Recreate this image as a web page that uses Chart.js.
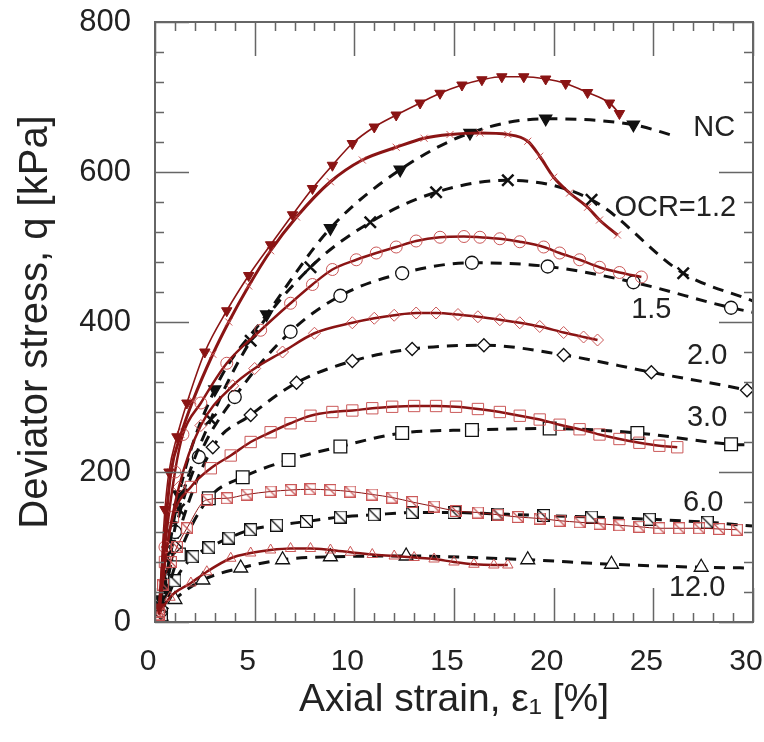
<!DOCTYPE html>
<html>
<head>
<meta charset="utf-8">
<script src="https://cdn.jsdelivr.net/npm/chart.js@4.4.1/dist/chart.umd.min.js"></script>
<style>
  body { margin: 0; background: #fff; }
  canvas { display: block; }
</style>
</head>
<body>
<canvas id="myChart" width="764" height="742"></canvas>
<script>
// axial strain [%], deviator stress [kPa]
// solid dark red curves (dense markers)
const ncSolid = [[0.2, 20], [0.5, 150], [0.7, 200], [1.1, 247], [1.6, 292], [2.5, 360], [3.6, 415], [4.7, 462], [5.8, 503], [6.9, 543], [7.9, 578], [8.9, 609], [9.9, 638], [11, 660], [12.1, 676], [13.3, 692], [14.3, 705], [15.4, 716], [16.4, 723], [17.4, 727], [18.5, 727], [19.6, 724], [20.6, 718], [21.7, 706], [22.8, 692], [23.3, 678]];
const ocr12Solid = [[0.2, 15], [0.6, 150], [0.8, 200], [1.3, 250], [1.9, 295], [2.9, 357], [3.7, 400], [4.7, 448], [5.8, 495], [7.1, 540], [8.8, 587], [10.4, 616], [12.1, 633], [13.5, 645], [14.8, 650], [16.3, 652], [17.7, 650], [18.7, 641], [19.3, 621], [20, 593], [20.8, 572], [21.7, 553], [22.3, 536], [23.2, 516]];
const ocr15Solid = [[0.2, 15], [0.5, 100], [1, 200], [1.4, 250], [2.3, 292], [3.6, 345], [5.3, 389], [6.8, 425], [7.9, 450], [8.9, 470], [10.1, 483], [11.1, 492], [12.1, 500], [13.1, 508], [14.3, 513], [15.5, 514], [16.3, 513], [17.3, 511], [18.3, 507], [19.5, 500], [20.3, 492], [21.3, 483], [22.3, 473], [23.3, 466], [24.4, 460]];
const ocr20Solid = [[0.2, 15], [0.6, 100], [1.2, 180], [2.3, 262], [3.9, 315], [5, 338], [6.4, 360], [8, 385], [9.9, 399], [11, 405], [12, 409], [13.1, 412], [14.1, 412], [15.2, 410], [16.2, 407], [17.3, 403], [18.3, 399], [19.3, 394], [20.5, 386], [21.5, 380], [22.2, 376]];
const ocr30Solid = [[0.2, 10], [0.5, 80], [0.9, 140], [1.8, 180], [2.8, 205], [3.8, 222], [4.8, 240], [5.8, 253], [6.8, 265], [7.8, 275], [8.9, 280], [9.9, 282], [10.9, 285], [11.9, 287], [13, 288], [14.1, 288], [15.1, 287], [16.2, 284], [17.3, 280], [18.3, 275], [19.3, 270], [20.3, 263], [21.3, 257], [22.3, 250], [23.3, 244], [24.3, 239], [25.3, 235], [26.2, 233]];
const ocr60Solid = [[0.2, 10], [0.4, 50], [0.8, 80], [1.1, 100], [1.6, 125], [2.6, 163], [3.6, 165], [4.6, 170], [5.8, 174], [6.8, 176], [7.8, 177], [8.8, 176], [9.8, 174], [10.9, 170], [11.9, 166], [12.9, 160], [14, 154], [15.1, 148], [16.2, 146], [17.2, 143], [18.2, 140], [19.3, 138], [20.3, 135], [21.3, 133], [22.3, 131], [23.3, 129], [24.3, 127], [25.3, 125], [26.3, 125], [27.3, 125], [28.3, 124], [29.2, 123]];
const ocr120Solid = [[0.2, 10], [0.75, 33], [1.8, 52], [2.6, 67], [3.8, 85], [4.8, 92], [5.8, 96], [6.8, 98], [7.8, 98], [8.8, 96], [9.8, 93], [10.9, 90], [12, 88], [13, 86], [14, 84], [15, 80], [16, 77], [17, 76], [17.7, 76]];

// black dashed curves (sparse markers)
const ncDashed = [[0.3, 30], [1.2, 170], [3, 310], [5.6, 410], [8.8, 525], [12.3, 603], [15.8, 652], [19.6, 671], [24, 663], [26.2, 647]];
const ocr12Dashed = [[0.3, 20], [1.2, 150], [2.8, 270], [4.8, 375], [7.8, 473], [10.8, 533], [14.1, 573], [17.7, 589], [21.9, 563], [26.5, 465], [30, 428]];
const ocr15Dashed = [[0.3, 15], [1, 120], [2.2, 220], [4, 300], [6.8, 387], [9.3, 435], [12.4, 465], [15.9, 479], [19.7, 474], [24, 453], [28.9, 419], [30, 413]];
const ocr20Dashed = [[0.3, 12], [1, 100], [2.9, 233], [4.8, 276], [7.1, 319], [9.9, 348], [12.9, 364], [16.5, 369], [20.5, 356], [24.9, 333], [29.7, 309], [30, 307]];
const ocr30Dashed = [[0.3, 10], [1.2, 90], [2.7, 165], [4.4, 193], [6.7, 216], [9.3, 234], [12.4, 252], [15.9, 256], [19.8, 258], [24.2, 252], [28.9, 237], [30, 236]];
const ocr60Dashed = [[0.3, 10], [1, 55], [1.9, 87], [2.7, 99], [3.7, 112], [4.8, 123], [6.1, 129], [7.6, 134], [9.3, 140], [11, 143], [12.9, 146], [15, 146], [17.2, 144], [19.5, 142], [21.9, 140], [24.8, 137], [27.7, 133], [30, 128]];
const ocr120Dashed = [[0.3, 8], [1, 30], [2.4, 56], [4.3, 72], [6.4, 83], [8.8, 87], [12.6, 88], [18.7, 83], [22.9, 77], [27.4, 73], [30, 72]];

const xTicks = [0, 5, 10, 15, 20, 25, 30];
const yTicks = [0, 200, 400, 600, 800];

// curve labels: [text, strain, stress]
const curveLabels = [
  ['NC', 28.05, 659],
  ['OCR=1.2', 26.1, 552],
  ['1.5', 24.9, 416],
  ['2.0', 27.7, 355],
  ['3.0', 27.7, 272],
  ['6.0', 27.5, 159],
  ['12.0', 27.2, 45],
];

const FONT = '"Liberation Sans", Arial, sans-serif';
const DARKRED = '#8a1414';
const PINK = 'rgba(200, 80, 80, 0.95)';

function slashSquare(size, color, fill) {
  const c = document.createElement('canvas');
  c.width = size;
  c.height = size;
  const g = c.getContext('2d');
  if (fill) {
    g.fillStyle = fill;
    g.fillRect(1, 1, size - 2, size - 2);
  }
  g.strokeStyle = color;
  g.lineWidth = 1.2;
  g.strokeRect(0.6, 0.6, size - 1.2, size - 1.2);
  g.beginPath();
  g.moveTo(1, 1);
  g.lineTo(size - 1, size - 1);
  g.stroke();
  return c;
}

function pts(arr) {
  return arr.map(([x, y]) => ({ x, y }));
}

function solid(arr, width, marker) {
  return Object.assign({
    data: pts(arr),
    showLine: true,
    borderColor: DARKRED,
    borderWidth: width,
    cubicInterpolationMode: 'monotone',
    pointBorderColor: PINK,
    pointBackgroundColor: 'rgba(0,0,0,0)',
    pointBorderWidth: 1,
    pointRadius: 5,
  }, marker);
}

function dashed(arr, marker) {
  return Object.assign({
    data: pts(arr),
    showLine: true,
    borderColor: '#111',
    borderWidth: 3,
    borderDash: [11, 8],
    cubicInterpolationMode: 'monotone',
    pointBorderColor: '#111',
    pointBackgroundColor: '#fff',
    pointBorderWidth: 1.3,
    pointRadius: (c) => (c.dataIndex === c.dataset.data.length - 1 ? 0 : (marker.r || 6)),
  }, marker);
}

const datasets = [
  solid(ncSolid, 1.6, { pointStyle: 'triangle', rotation: 180, pointRadius: 6, pointBackgroundColor: DARKRED, pointBorderColor: DARKRED }),
  solid(ocr12Solid, 3, { pointStyle: 'crossRot', pointRadius: 5 }),
  solid(ocr15Solid, 2.5, { pointStyle: 'circle', pointRadius: 6 }),
  solid(ocr20Solid, 2.5, { pointStyle: 'rectRot', pointRadius: 6 }),
  solid(ocr30Solid, 2.5, { pointStyle: 'rect', pointRadius: 8 }),
  solid(ocr60Solid, 1, { pointStyle: slashSquare(12, PINK, null) }),
  solid(ocr120Solid, 2.5, { pointStyle: 'triangle', pointRadius: 6 }),
  dashed(ncDashed, { pointStyle: 'triangle', rotation: 180, r: 7, pointBackgroundColor: '#111' }),
  dashed(ocr12Dashed, { pointStyle: 'crossRot', r: 8, pointBorderWidth: 2.5 }),
  dashed(ocr15Dashed, { pointStyle: 'circle', r: 6.5 }),
  dashed(ocr20Dashed, { pointStyle: 'rectRot', r: 6.5 }),
  dashed(ocr30Dashed, { pointStyle: 'rect', r: 9 }),
  dashed(ocr60Dashed, { pointStyle: slashSquare(13, '#111', '#fff') }),
  dashed(ocr120Dashed, { pointStyle: 'triangle', r: 8 }),
];

// frame, inward ticks and curve labels
const frameTicks = {
  id: 'frameTicks',
  afterDatasetsDraw(chart) {
    const { ctx, chartArea: a, scales: { x, y } } = chart;
    ctx.save();
    ctx.strokeStyle = '#666';
    ctx.lineWidth = 1.5;
    ctx.beginPath();
    for (let v = 0; v <= 30; v += 1) {
      const px = Math.round(x.getPixelForValue(v)) + 0.5;
      const len = v % 5 === 0 ? 34 : 9;
      ctx.moveTo(px, a.bottom); ctx.lineTo(px, a.bottom - len);
      ctx.moveTo(px, a.top); ctx.lineTo(px, a.top + len);
    }
    for (let v = 0; v <= 800; v += 40) {
      const py = Math.round(y.getPixelForValue(v)) + 0.5;
      const len = v % 200 === 0 ? 34 : 9;
      ctx.moveTo(a.left, py); ctx.lineTo(a.left + len, py);
      ctx.moveTo(a.right, py); ctx.lineTo(a.right - len, py);
    }
    ctx.stroke();
    ctx.lineWidth = 2;
    ctx.strokeRect(a.left, a.top, a.right - a.left, a.bottom - a.top);

    ctx.fillStyle = '#222';
    ctx.font = '29px ' + FONT;
    ctx.textAlign = 'center';
    ctx.textBaseline = 'middle';
    curveLabels.forEach(([t, ex, q]) => {
      ctx.fillText(t, x.getPixelForValue(ex), y.getPixelForValue(q));
    });
    ctx.restore();
  },
};

const config = {
  type: 'scatter',
  data: { datasets },
  options: {
    responsive: false,
    animation: false,
    devicePixelRatio: 1,
    layout: { padding: { left: 0, top: 22, right: 11, bottom: 0 } },
    plugins: { legend: { display: false }, tooltip: { enabled: false } },
    scales: {
      x: {
        type: 'linear',
        min: 0,
        max: 30,
        afterFit: (s) => { s.height = 120; s.paddingLeft = 0; s.paddingRight = 0; },
        afterBuildTicks: (s) => { s.ticks = xTicks.map((v) => ({ value: v })); },
        grid: { display: false, drawTicks: false },
        border: { display: false },
        ticks: { font: { family: FONT, size: 30 }, color: '#222', padding: 22, labelOffset: -7 },
        title: { display: true, text: 'Axial strain, ε₁ [%]', font: { family: FONT, size: 39, lineHeight: 1 }, color: '#222', padding: { bottom: 22 } },
      },
      y: {
        type: 'linear',
        min: 0,
        max: 800,
        afterFit: (s) => { s.width = 155; s.paddingTop = 0; s.paddingBottom = 0; },
        afterBuildTicks: (s) => { s.ticks = yTicks.map((v) => ({ value: v })); },
        grid: { display: false, drawTicks: false },
        border: { display: false },
        ticks: { font: { family: FONT, size: 31 }, color: '#222', padding: 24 },
        title: { display: true, text: 'Deviator stress, q [kPa]', font: { family: FONT, size: 40, lineHeight: 1 }, color: '#222', padding: { top: 16 } },
      },
    },
  },
  plugins: [frameTicks],
};

const myChart = new Chart(document.getElementById('myChart'), config);
</script>
</body>
</html>
